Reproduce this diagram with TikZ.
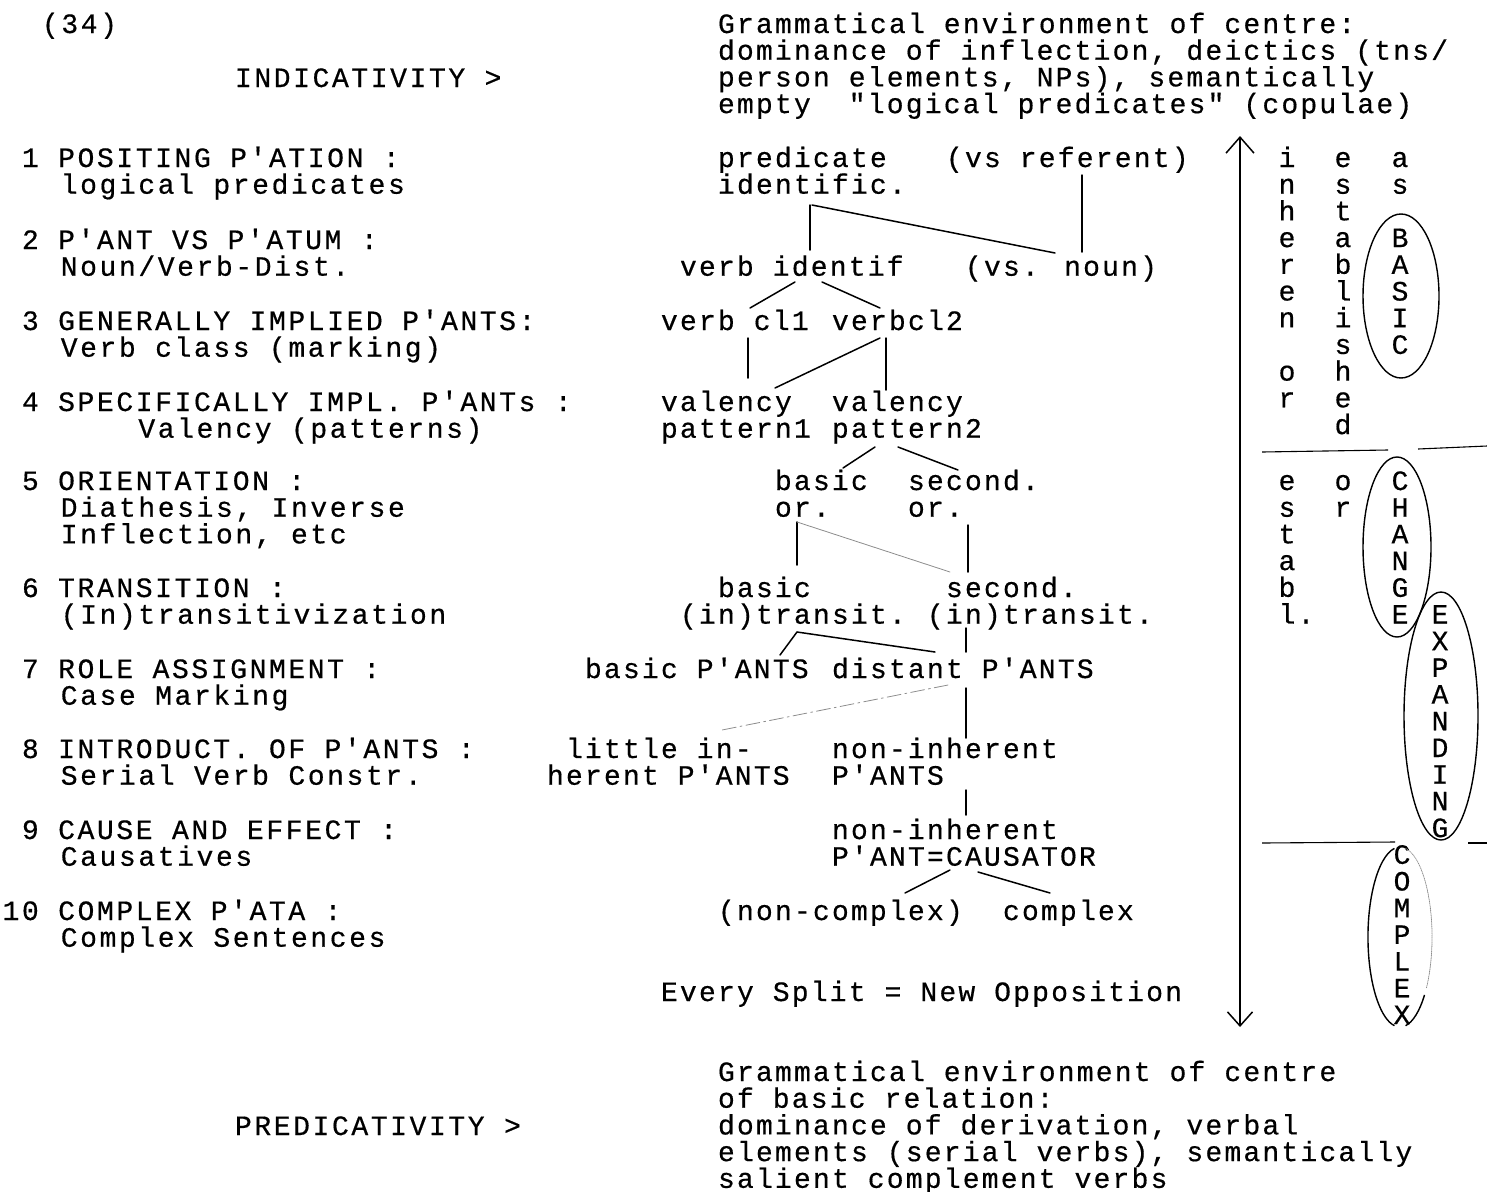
\documentclass[tikz,border=0pt]{standalone}
\usepackage{fontspec}
\newfontfamily\tw{Liberation Mono}[LetterSpace=7.86,FakeBold=0.5]
\newfontfamily\twl{Liberation Mono}[LetterSpace=9.29,FakeBold=0.5]
\usetikzlibrary{calc,arrows.meta}
\tikzset{
  txt/.style={anchor=base west,inner sep=0pt,outer sep=0pt,font=\tw\fontsize{28}{28}\selectfont},
  ltxt/.style={anchor=base west,inner sep=0pt,outer sep=0pt,font=\twl\fontsize{28}{28}\selectfont},
  ln/.style={line width=1.5pt,line cap=round},
  faint/.style={line width=0.8pt,black!45,line cap=round},
  ring/.style={line width=1.4pt},
  sepline/.style={line width=1.1pt},
}
\newcommand\tx[4]{\node[txt] (#1) at (#2,#3) {#4};}
\newcommand\lx[4]{\node[ltxt] (#1) at (#2,#3) {#4};}
\begin{document}
\begin{tikzpicture}[x=1pt,y=-1pt]
\useasboundingbox (0,0) rectangle (1487,1191);
% ---------- left column ----------
\lx{n34}{42}{33}{(34)}
\lx{indic}{235}{87}{INDICATIVITY >}
\lx{ia}{22}{167}{1 POSITING P'ATION :}
\lx{ib}{60.8}{193.7}{logical predicates}
\lx{iia}{22}{249}{2 P'ANT VS P'ATUM :}
\lx{iib}{60.8}{275.7}{Noun/Verb-Dist.}
\lx{iiia}{22}{330}{3 GENERALLY IMPLIED P'ANTS:}
\lx{iiib}{60.8}{356.7}{Verb class (marking)}
\lx{iva}{22}{411}{4 SPECIFICALLY IMPL. P'ANTs :}
\lx{ivb}{138.4}{437.7}{Valency (patterns)}
\lx{va}{22}{490}{5 ORIENTATION :}
\lx{vb}{60.8}{516.7}{Diathesis, Inverse}
\lx{vc}{60.8}{543.4}{Inflection, etc}
\lx{via}{22}{597}{6 TRANSITION :}
\lx{vib}{60.8}{623.7}{(In)transitivization}
\lx{viia}{22}{678}{7 ROLE ASSIGNMENT :}
\lx{viib}{60.8}{704.7}{Case Marking}
\lx{viiia}{22}{758}{8 INTRODUCT. OF P'ANTS :}
\lx{viiib}{60.8}{784.7}{Serial Verb Constr.}
\lx{ixa}{22}{839}{9 CAUSE AND EFFECT :}
\lx{ixb}{60.8}{865.7}{Causatives}
\lx{xa}{2.6}{920}{10 COMPLEX P'ATA :}
\lx{xb}{60.8}{946.7}{Complex Sentences}
\lx{predic}{235}{1135}{PREDICATIVITY >}
% ---------- top / bottom blocks ----------
\tx{ga}{718}{33}{Grammatical environment of centre:}
\tx{gb}{718}{59.7}{dominance of inflection, deictics (tns/}
\tx{gc}{718}{86.4}{person elements, NPs), semantically}
\tx{gd}{718}{113.1}{empty\ \ "logical predicates" (copulae)}
\tx{every}{661}{1001}{Every Split = New Opposition}
\tx{ha}{718}{1081}{Grammatical environment of centre}
\tx{hb}{718}{1107.7}{of basic relation:}
\tx{hc}{718}{1134.4}{dominance of derivation, verbal}
\tx{hd}{718}{1161.1}{elements (serial verbs), semantically}
\tx{he}{718}{1187.8}{salient complement verbs}
% ---------- tree ----------
\tx{pred}{718}{167}{predicate}
\tx{idf}{718}{193.7}{identific.}
\tx{vsref}{946}{167}{(vs referent)}
\tx{vid}{680}{275.7}{verb identif}
\tx{vsn}{965}{275.7}{(vs. noun)}
\tx{vca}{661}{330}{verb cl1}
\tx{vcb}{832}{330}{verbcl2}
\tx{vala}{661}{411}{valency}
\tx{pata}{661}{437.7}{pattern1}
\tx{valb}{832}{411}{valency}
\tx{patb}{832}{437.7}{pattern2}
\tx{bor}{775}{490}{basic}
\tx{borb}{775}{516.7}{or.}
\tx{sor}{908}{490}{second.}
\tx{sorb}{908}{516.7}{or.}
\tx{btr}{718}{597}{basic}
\tx{btrb}{680}{623.7}{(in)transit.}
\tx{str}{946}{597}{second.}
\tx{strb}{927}{623.7}{(in)transit.}
\tx{bp}{585}{678}{basic P'ANTS}
\tx{dp}{832}{678}{distant P'ANTS}
\tx{lit}{566}{758}{little in-}
\tx{litb}{547}{784.7}{herent P'ANTS}
\tx{nih}{832}{758}{non-inherent}
\tx{nihb}{832}{784.7}{P'ANTS}
\tx{nic}{832}{839}{non-inherent}
\tx{nicb}{832}{865.7}{P'ANT=CAUSATOR}
\tx{ncx}{718}{920}{(non-complex)}
\tx{cx}{1003}{920}{complex}
% connectors
\draw[ln] ($(idf.base west)+(92,11.3)$) -- ($(vid.base west)+(130,-25.7)$);
\draw[ln] ($(idf.base west)+(94,11.3)$) -- ($(vsn.base west)+(90,-22.7)$);
\draw[ln] ($(vsref.base west)+(136,8)$) -- ($(vsn.base west)+(117,-23.7)$);
\draw[ln] ($(vid.base west)+(115,6.3)$) -- ($(vca.base west)+(89,-22)$);
\draw[ln] ($(vid.base west)+(142,6.3)$) -- ($(vcb.base west)+(48,-22)$);
\draw[ln] ($(vca.base west)+(87,8)$) -- ($(vala.base west)+(87,-33)$);
\draw[ln] ($(vcb.base west)+(48,8)$) -- ($(vala.base west)+(114,-23)$);
\draw[ln] ($(vcb.base west)+(54,8)$) -- ($(valb.base west)+(54,-21)$);
\draw[ln] ($(patb.base west)+(43,9.3)$) -- ($(bor.base west)+(68,-22)$);
\draw[ln] ($(patb.base west)+(66,9.3)$) -- ($(sor.base west)+(50,-20)$);
\draw[ln] ($(borb.base west)+(22,5.3)$) -- ($(btr.base west)+(79,-32)$);
\draw[faint] ($(borb.base west)+(22,5.3)$) -- ($(str.base west)+(4,-25)$);
\draw[ln] ($(sorb.base west)+(60,8.3)$) -- ($(str.base west)+(22,-25)$);
\draw[ln] ($(btrb.base west)+(117,8.3)$) -- ($(bp.base west)+(195,-23)$);
\draw[ln] ($(btrb.base west)+(117,8.3)$) -- ($(dp.base west)+(103,-26)$);
\draw[ln] ($(strb.base west)+(39,4.3)$) -- ($(dp.base west)+(134,-26)$);
\draw[faint,dash pattern=on 14pt off 4pt on 2pt off 4pt] ($(dp.base west)+(116,7)$) -- ($(lit.base west)+(156,-28)$);
\draw[ln] ($(dp.base west)+(134,10)$) -- ($(nih.base west)+(134,-20)$);
\draw[ln] ($(nihb.base west)+(134,5.3)$) -- ($(nic.base west)+(134,-24)$);
\draw[ln] ($(nicb.base west)+(118,4.3)$) -- ($(ncx.base west)+(187,-27)$);
\draw[ln] ($(nicb.base west)+(146,6.3)$) -- ($(cx.base west)+(47,-27)$);
% ---------- right side ----------
\coordinate (atop) at (1240,136);
\coordinate (abot) at (1240,1027);
\draw[line width=1.5pt,{Straight Barb[length=16pt,width=28pt]}-{Straight Barb[length=14pt,width=25pt]}] (atop) -- (abot);
\foreach \c [count=\k from 0] in {i,n,h,e,r,e,n}
  \node[txt] (inh\k) at (1278.6,{167+\k*26.7}) {\c};
\node[txt] (inho) at (1278.6,{167+8*26.7}) {o};
\node[txt] (inhr) at (1278.6,{167+9*26.7}) {r};
\foreach \c [count=\k from 0] in {e,s,t,a,b,l,i,s,h,e,d}
  \node[txt] (est\k) at (1334.6,{167+\k*26.7}) {\c};
\node[txt] (asa) at (1391.6,167) {a};
\node[txt] (ass) at (1391.6,193.7) {s};
\foreach \c [count=\k from 3] in {B,A,S,I,C}
  \node[txt] (bas\k) at (1391.6,{167+\k*26.7}) {\c};
\draw[ring] (1401,296) ellipse [x radius=38, y radius=82];
\draw[sepline] (1262,452) -- (1388,450);
\draw[sepline] (1418,449) -- (1487,446);
\foreach \c [count=\k from 0] in {e,s,t,a,b,l.}
  \node[txt] (etb\k) at (1278.6,{490+\k*26.7}) {\c};
\node[txt] (oro) at (1334.6,490) {o};
\node[txt] (orr) at (1334.6,516.7) {r};
\foreach \c [count=\k from 0] in {C,H,A,N,G,E}
  \node[txt] (chg\k) at (1391.6,{490+\k*26.7}) {\c};
\draw[ring] (1397,547) ellipse [x radius=34, y radius=90];
\foreach \c [count=\k from 5] in {E,X,P,A,N,D,I,N,G}
  \node[txt] (exp\k) at (1431.6,{490+\k*26.7}) {\c};
\draw[ring] (1441,716) ellipse [x radius=37, y radius=124];
\draw[sepline] (1262,843) -- (1395,842);
\draw[sepline] (1468,843) -- (1487,843);
\foreach \c [count=\k from 14] in {C,O,M,P,L,E,X}
  \node[txt] (cpx\k) at (1393.6,{490+\k*26.7}) {\c};
\draw[ring] (1394.4,848.4) arc[start angle=260, end angle=100, x radius=32, y radius=90];
\draw[faint,densely dotted] (1405.6,848.4) arc[start angle=280, end angle=395, x radius=32, y radius=90];
\draw[ring] (1424.5,994.9) arc[start angle=40, end angle=80, x radius=32, y radius=90];
\end{tikzpicture}
\end{document}
